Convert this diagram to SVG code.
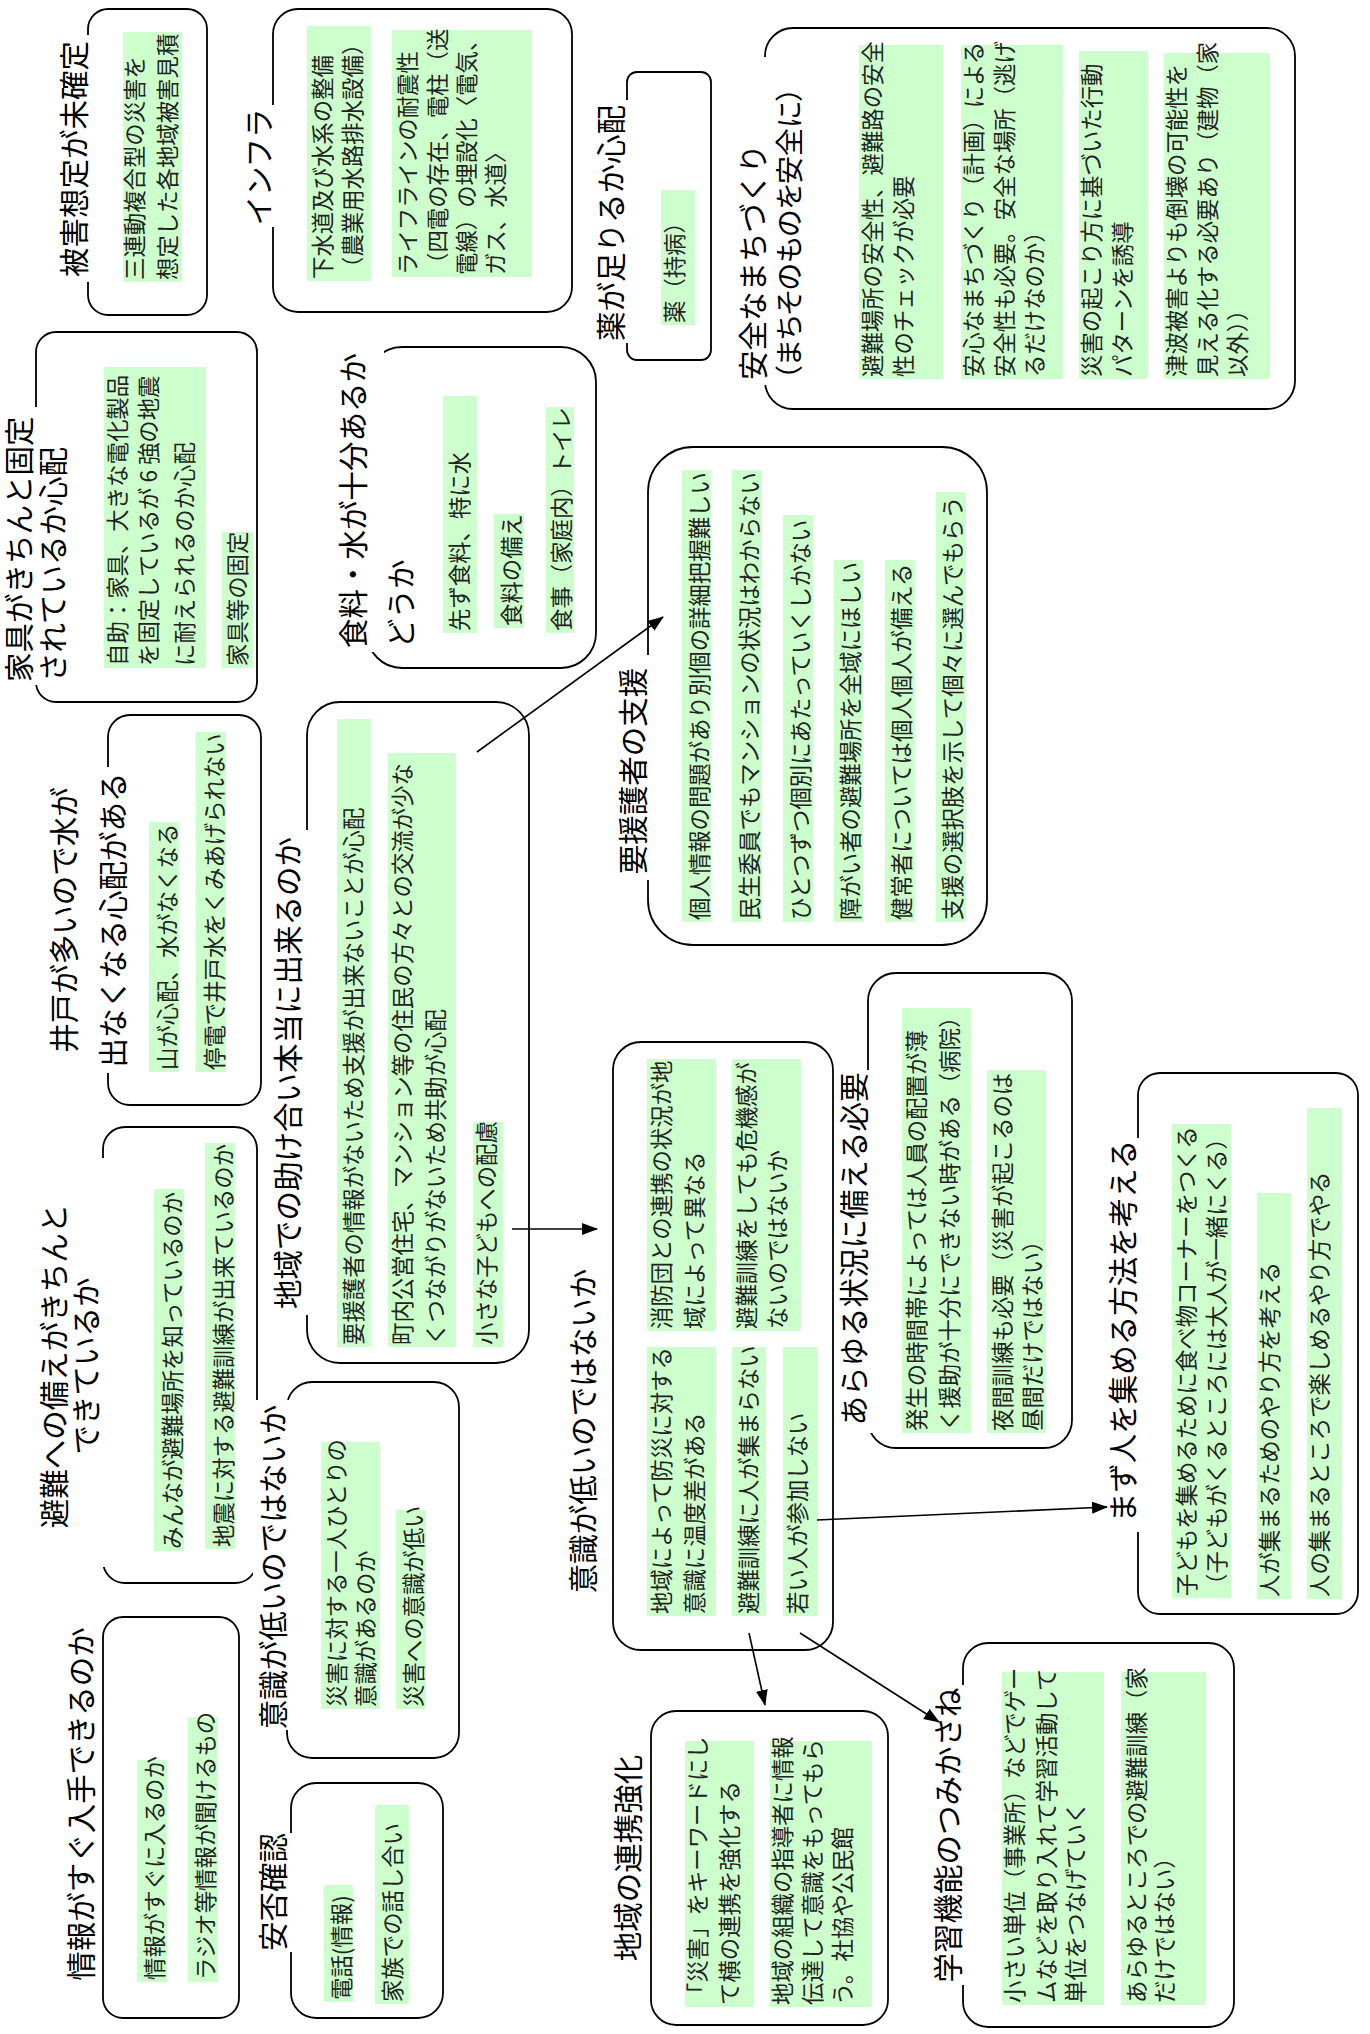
<svg xmlns="http://www.w3.org/2000/svg" width="1370" height="2034" viewBox="0 0 1370 2034">
<defs>
<style>
.box{fill:none;stroke:#000;stroke-width:1.8}
.tb{fill:#fff}
.t{font-family:"Noto Sans CJK JP","Noto Sans CJK SC",sans-serif;font-size:29.5px;fill:#000}
.tp{font-size:28px;font-feature-settings:"palt"}
.g{fill:#ccffcc}
.b{font-family:"Noto Sans CJK JP","Noto Sans CJK SC",sans-serif;font-size:22.4px;fill:#222}
.c{fill:none;stroke:#000;stroke-width:1.6;marker-end:url(#ah)}
</style>
<marker id="ah" markerUnits="userSpaceOnUse" markerWidth="16" markerHeight="12" refX="15" refY="6" orient="auto"><path d="M0,0 L16,6 L0,12 z" fill="#000"/></marker>
</defs>
<rect width="1370" height="2034" fill="#fff"/>
<!-- drawn in landscape coordinates, turned a quarter-turn counter-clockwise -->
<g transform="translate(0,2034) rotate(-90)">

<g id="n-higai">
<rect class="box" x="1719" y="88" width="306" height="119" rx="20"/>
<rect class="tb" x="1752" y="55" width="247" height="36"/>
<text class="t" x="1875" y="85" text-anchor="middle">被害想定が未確定</text>
<rect class="g" x="1752" y="123" width="250" height="59"/>
<text class="b" x="1754" y="143">三連動複合型の災害を</text>
<text class="b" x="1754" y="176">想定した各地域被害見積</text>
</g>

<g id="n-infra">
<rect class="box" x="1722" y="273" width="303" height="299" rx="25"/>
<rect class="tb" x="1807" y="240" width="122" height="36"/>
<text class="t" x="1867" y="270" text-anchor="middle">インフラ</text>
<rect class="g" x="1753" y="307" width="255" height="64"/>
<text class="b" x="1755" y="331">下水道及び水系の整備</text>
<text class="b" x="1755" y="361">（農業用水路排水設備）</text>
<rect class="g" x="1757" y="392" width="247" height="140"/>
<text class="b" x="1759" y="416">ライフラインの耐震性</text>
<text class="b" x="1759" y="446">（四電の存在、電柱（送</text>
<text class="b" x="1759" y="475">電線）の埋設化〈電気、</text>
<text class="b" x="1759" y="504">ガス、水道〉</text>
</g>

<g id="n-kusuri">
<rect class="box" x="1674" y="627" width="288" height="84" rx="10"/>
<rect class="tb" x="1691" y="592" width="243" height="38"/>
<text class="t" x="1811" y="622" text-anchor="middle">薬が足りるか心配</text>
<rect class="g" x="1709" y="661" width="135" height="34"/>
<text class="b" x="1711" y="683">薬（持病）</text>
</g>

<g id="n-machi">
<rect class="box" x="1625" y="765" width="381" height="530" rx="28"/>
<rect class="tb" x="1649" y="736" width="328" height="70"/>
<text class="t" x="1654" y="764">安全なまちづくり</text>
<text class="t tp" x="1654" y="800">（まちそのものを安全に）</text>
<rect class="g" x="1655" y="859" width="334" height="84"/>
<text class="b" x="1657" y="881">避難場所の安全性、避難路の安全</text>
<text class="b" x="1657" y="912">性のチェックが必要</text>
<rect class="g" x="1655" y="961" width="334" height="102"/>
<text class="b" x="1657" y="982">安心なまちづくり（計画）による</text>
<text class="b" x="1657" y="1013">安全性も必要。安全な場所（逃げ</text>
<text class="b" x="1657" y="1043">るだけなのか）</text>
<rect class="g" x="1655" y="1079" width="328" height="69"/>
<text class="b" x="1657" y="1100">災害の起こり方に基づいた行動</text>
<text class="b" x="1657" y="1131">パターンを誘導</text>
<rect class="g" x="1655" y="1164" width="326" height="106"/>
<text class="b" x="1657" y="1185">津波被害よりも倒壊の可能性を</text>
<text class="b" x="1657" y="1216">見える化する必要あり（建物（家</text>
<text class="b" x="1657" y="1246">以外））</text>
</g>

<g id="n-kagu">
<rect class="box" x="1332" y="36" width="370" height="221" rx="20"/>
<rect class="tb" x="1349" y="4" width="278" height="70"/>
<text class="t" x="1352" y="30">家具がきちんと固定</text>
<text class="t" x="1352" y="64">されているか心配</text>
<rect class="g" x="1366" y="104" width="301" height="102"/>
<text class="b" x="1368" y="126">自助：家具、大きな電化製品</text>
<text class="b" x="1368" y="157">を固定しているが 6 強の地震</text>
<text class="b" x="1368" y="193">に耐えられるのか心配</text>
<rect class="g" x="1366" y="222" width="136" height="31"/>
<text class="b" x="1368" y="246">家具等の固定</text>
</g>

<g id="n-shokuryo">
<rect class="box" x="1366" y="367" width="321" height="229" rx="35"/>
<rect class="tb" x="1382" y="336" width="308" height="48"/>
<text class="t" x="1386" y="364">食料・水が十分あるか</text>
<text class="t" x="1386" y="412">どうか</text>
<rect class="g" x="1401" y="443" width="237" height="34"/>
<text class="b" x="1403" y="468">先ず食料、特に水</text>
<rect class="g" x="1406" y="494" width="114" height="30"/>
<text class="b" x="1408" y="520">食料の備え</text>
<rect class="g" x="1401" y="546" width="226" height="28"/>
<text class="b" x="1403" y="570">食事（家庭内）トイレ</text>
</g>

<g id="n-ido">
<rect class="box" x="929" y="108" width="390" height="153" rx="22"/>
<rect class="tb" x="961" y="48" width="306" height="64"/>
<text class="t" x="1114" y="75" text-anchor="middle">井戸が多いので水が</text>
<text class="t" x="1114" y="124" text-anchor="middle">出なくなる心配がある</text>
<rect class="g" x="962" y="149" width="250" height="30"/>
<text class="b" x="964" y="176">山が心配、水がなくなる</text>
<rect class="g" x="962" y="196" width="340" height="30"/>
<text class="b" x="964" y="223">停電で井戸水をくみあげられない</text>
</g>

<g id="n-tasukeai">
<rect class="box" x="671" y="307" width="661" height="222" rx="33"/>
<rect class="tb" x="719" y="270" width="485" height="40"/>
<text class="t" x="961" y="299" text-anchor="middle">地域での助け合い本当に出来るのか</text>
<rect class="g" x="687" y="337" width="628" height="34"/>
<text class="b" x="689" y="362">要援護者の情報がないため支援が出来ないことが心配</text>
<rect class="g" x="687" y="388" width="594" height="68"/>
<text class="b" x="689" y="411">町内公営住宅、マンション等の住民の方々との交流が少な</text>
<text class="b" x="689" y="444">くつながりがないため共助が心配</text>
<rect class="g" x="687" y="473" width="225" height="30"/>
<text class="b" x="689" y="495">小さな子どもへの配慮</text>
</g>

<g id="n-yoengo">
<rect class="box" x="1089" y="648" width="498" height="339" rx="45"/>
<rect class="tb" x="1154" y="613" width="225" height="38"/>
<text class="t" x="1263" y="644" text-anchor="middle">要援護者の支援</text>
<rect class="g" x="1112" y="682" width="452" height="29"/>
<text class="b" x="1114" y="708">個人情報の問題があり別個の詳細把握難しい</text>
<rect class="g" x="1112" y="732" width="452" height="30"/>
<text class="b" x="1114" y="758">民生委員でもマンションの状況はわからない</text>
<rect class="g" x="1112" y="783" width="407" height="30"/>
<text class="b" x="1114" y="809">ひとつずつ個別にあたっていくしかない</text>
<rect class="g" x="1112" y="834" width="362" height="29"/>
<text class="b" x="1114" y="859">障がい者の避難場所を全域にほしい</text>
<rect class="g" x="1112" y="885" width="362" height="30"/>
<text class="b" x="1114" y="910">健常者については個人個人が備える</text>
<rect class="g" x="1112" y="936" width="430" height="30"/>
<text class="b" x="1114" y="961">支援の選択肢を示して個々に選んでもらう</text>
</g>

<g id="n-sonae">
<rect class="box" x="451" y="103" width="456" height="154" rx="22"/>
<rect class="tb" x="467" y="36" width="409" height="70"/>
<text class="t" x="668" y="65" text-anchor="middle">避難への備えがきちんと</text>
<text class="t" x="668" y="97" text-anchor="middle">できているか</text>
<rect class="g" x="483" y="154" width="362" height="30"/>
<text class="b" x="485" y="181">みんなが避難場所を知っているのか</text>
<rect class="g" x="485" y="205" width="406" height="30"/>
<text class="b" x="487" y="232">地震に対する避難訓練が出来ているのか</text>
</g>

<g id="n-ishiki1">
<rect class="box" x="276" y="287" width="376" height="172" rx="25"/>
<rect class="tb" x="304" y="253" width="330" height="38"/>
<text class="t" x="467" y="284" text-anchor="middle">意識が低いのではないか</text>
<rect class="g" x="325" y="321" width="267" height="59"/>
<text class="b" x="327" y="345">災害に対する一人ひとりの</text>
<text class="b" x="327" y="374">意識があるのか</text>
<rect class="g" x="325" y="396" width="199" height="30"/>
<text class="b" x="327" y="422">災害への意識が低い</text>
</g>

<g id="n-joho">
<rect class="box" x="16" y="103" width="401" height="136" rx="20"/>
<text class="t" x="230" y="92" text-anchor="middle">情報がすぐ入手できるのか</text>
<rect class="g" x="52" y="137" width="222" height="30"/>
<text class="b" x="54" y="163">情報がすぐに入るのか</text>
<rect class="g" x="52" y="188" width="265" height="30"/>
<text class="b" x="54" y="214">ラジオ等情報が聞けるもの</text>
</g>

<g id="n-anpi">
<rect class="box" x="16" y="291" width="235" height="152" rx="25"/>
<rect class="tb" x="82" y="258" width="119" height="38"/>
<text class="t" x="142" y="284" text-anchor="middle">安否確認</text>
<rect class="g" x="32" y="324" width="117" height="29"/>
<text class="b" x="34" y="350">電話(情報)</text>
<rect class="g" x="30" y="375" width="199" height="34"/>
<text class="b" x="32" y="401">家族での話し合い</text>
</g>

<g id="n-ishiki2">
<rect class="box" x="384" y="613" width="608" height="220" rx="28"/>
<text class="t" x="603" y="594" text-anchor="middle">意識が低いのではないか</text>
<rect class="g" x="703" y="647" width="272" height="69"/>
<text class="b" x="705" y="670">消防団との連携の状況が地</text>
<text class="b" x="705" y="703">域によって異なる</text>
<rect class="g" x="703" y="732" width="272" height="69"/>
<text class="b" x="705" y="755">避難訓練をしても危機感が</text>
<text class="b" x="705" y="786">ないのではないか</text>
<rect class="g" x="418" y="647" width="269" height="69"/>
<text class="b" x="420" y="670">地域によって防災に対する</text>
<text class="b" x="420" y="703">意識に温度差がある</text>
<rect class="g" x="418" y="732" width="269" height="34"/>
<text class="b" x="420" y="757">避難訓練に人が集まらない</text>
<rect class="g" x="418" y="783" width="269" height="35"/>
<text class="b" x="420" y="806">若い人が参加しない</text>
</g>

<g id="n-arayuru">
<rect class="box" x="586" y="868" width="475" height="204" rx="28"/>
<rect class="tb" x="601" y="836" width="363" height="37"/>
<text class="t" x="785" y="865" text-anchor="middle">あらゆる状況に備える必要</text>
<rect class="g" x="601" y="902" width="425" height="69"/>
<text class="b" x="603" y="925">発生の時間帯によっては人員の配置が薄</text>
<text class="b" x="603" y="958">く援助が十分にできない時がある（病院）</text>
<rect class="g" x="601" y="987" width="363" height="59"/>
<text class="b" x="603" y="1011">夜間訓練も必要（災害が起こるのは</text>
<text class="b" x="603" y="1041">昼間だけではない）</text>
</g>

<g id="n-atsumeru">
<rect class="box" x="420" y="1138" width="541" height="220" rx="22"/>
<rect class="tb" x="502" y="1105" width="394" height="37"/>
<text class="t" x="703" y="1134" text-anchor="middle">まず人を集める方法を考える</text>
<rect class="g" x="436" y="1172" width="474" height="59"/>
<text class="b" x="438" y="1195">子どもを集めるために食べ物コーナーをつくる</text>
<text class="b" x="438" y="1225">（子どもがくるところには大人が一緒にくる）</text>
<rect class="g" x="435" y="1257" width="406" height="34"/>
<text class="b" x="437" y="1278">人が集まるためのやり方を考える</text>
<rect class="g" x="435" y="1307" width="491" height="35"/>
<text class="b" x="437" y="1328">人の集まるところで楽しめるやり方でやる</text>
</g>

<g id="n-renkei">
<rect class="box" x="9" y="651" width="314" height="237" rx="25"/>
<text class="t" x="176" y="639" text-anchor="middle">地域の連携強化</text>
<rect class="g" x="27" y="685" width="266" height="69"/>
<text class="b" x="29" y="706">「災害」をキーワードにし</text>
<text class="b" x="29" y="738">て横の連携を強化する</text>
<rect class="g" x="27" y="770" width="266" height="102"/>
<text class="b" x="29" y="791">地域の組織の指導者に情報</text>
<text class="b" x="29" y="821">伝達して意識をもってもら</text>
<text class="b" x="29" y="851">う。社協や公民館</text>
</g>

<g id="n-gakushu">
<rect class="box" x="7" y="963" width="384" height="271" rx="25"/>
<rect class="tb" x="49" y="929" width="300" height="37"/>
<text class="t" x="199" y="959" text-anchor="middle">学習機能のつみかさね</text>
<rect class="g" x="29" y="1002" width="333" height="102"/>
<text class="b" x="31" y="1023">小さい単位（事業所）などでゲー</text>
<text class="b" x="31" y="1055">ムなどを取り入れて学習活動して</text>
<text class="b" x="31" y="1084">単位をつなげていく</text>
<rect class="g" x="29" y="1121" width="333" height="85"/>
<text class="b" x="31" y="1145">あらゆるところでの避難訓練（家</text>
<text class="b" x="31" y="1173">だけではない）</text>
</g>

<g id="connectors">
<path class="c" d="M1282,477 L1417,663"/>
<path class="c" d="M805,512 L805,597"/>
<path class="c" d="M514,817 L527,1107"/>
<path class="c" d="M401,749 L329,765"/>
<path class="c" d="M401,800 L312,939"/>
</g>

</g>
</svg>
